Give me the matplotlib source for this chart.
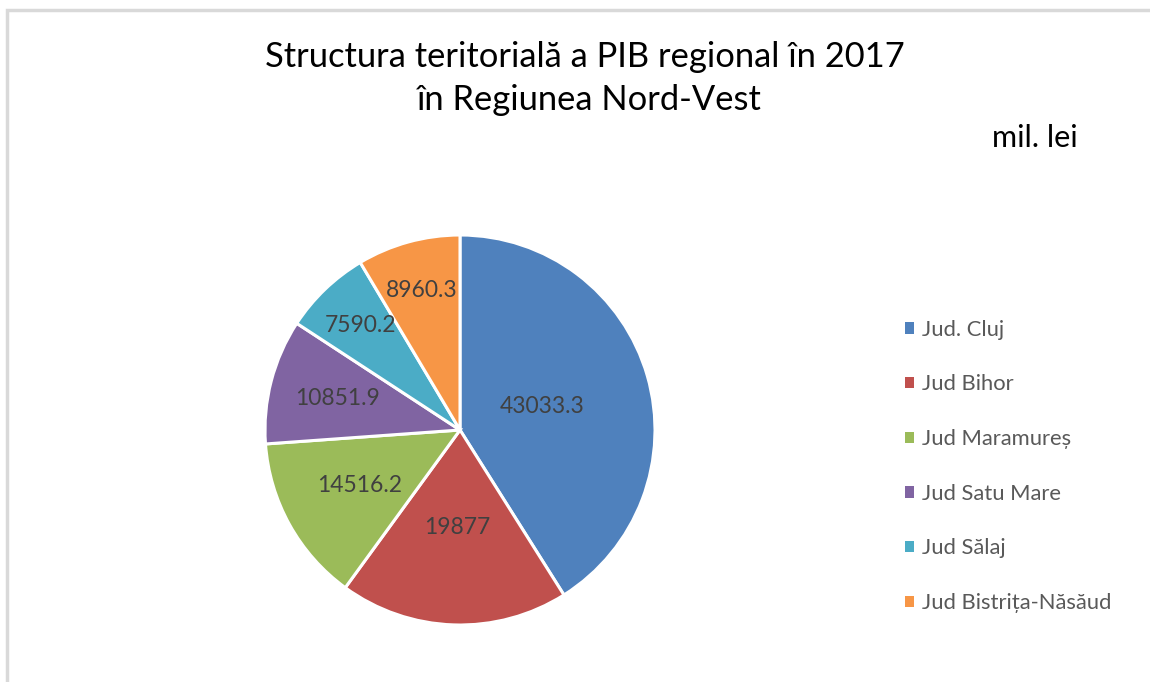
import matplotlib
matplotlib.use("Agg")
import matplotlib.pyplot as plt
from matplotlib.patches import Rectangle, Patch
import numpy as np

plt.rcParams['font.family'] = ['Lato', 'DejaVu Sans']

categories = ["Jud. Cluj", "Jud Bihor", "Jud Maramureș", "Jud Satu Mare",
              "Jud Sălaj", "Jud Bistrița-Năsăud"]
values = [43033.3, 19877, 14516.2, 10851.9, 7590.2, 8960.3]
value_labels = ["43033.3", "19877", "14516.2", "10851.9", "7590.2", "8960.3"]
colors = ["#4F81BD", "#C0504D", "#9BBB59", "#8064A2", "#4BACC6", "#F79646"]
label_dist = [0.44, 0.50, 0.59, 0.65, 0.74, 0.74]

W, H = 1150, 682
fig = plt.figure(figsize=(W / 100, H / 100), dpi=100)

# chart border (light grey, partly cropped)
fig.patches.append(Rectangle((6.5 / W, -0.1), 1.2, (H - 9.5) / H + 0.1,
                             transform=fig.transFigure, fill=False,
                             edgecolor="#D9D9D9", linewidth=2.5))

cx, cy, r = 460, 430, 195
ax = fig.add_axes([(cx - r) / W, (H - cy - r) / H, 2 * r / W, 2 * r / H])
wedges, _ = ax.pie(values, colors=colors, startangle=90, counterclock=False,
                   wedgeprops=dict(edgecolor="white", linewidth=2.2))
ax.set_xlim(-1, 1)
ax.set_ylim(-1, 1)
ax.set_aspect("equal")
ax.axis("off")

for w, lab, d in zip(wedges, value_labels, label_dist):
    ang = np.deg2rad((w.theta1 + w.theta2) / 2)
    ax.text(d * np.cos(ang), d * np.sin(ang), lab, ha="center", va="center",
            fontsize=16.5, color="#404040")

fig.text(585 / W, 1 - 57 / H, "Structura teritorială a PIB regional în 2017",
         ha="center", va="center", fontsize=24.8, color="#000000")
fig.text(588 / W, 1 - 100 / H, "în Regiunea Nord-Vest",
         ha="center", va="center", fontsize=24.8, color="#000000")
fig.text(992 / W, 1 - 138 / H, "mil. lei", ha="left", va="center",
         fontsize=22, color="#000000")

handles = [Patch(facecolor=c, edgecolor="none") for c in colors]
fig.legend(handles, categories, loc="upper left",
           bbox_to_anchor=(885 / W, 1 - 300 / H), frameon=False,
           fontsize=15.8, labelcolor="#595959", handlelength=0.42,
           handleheight=0.42, handletextpad=0.37, labelspacing=1.58)

fig.savefig("out.png", dpi=100)
